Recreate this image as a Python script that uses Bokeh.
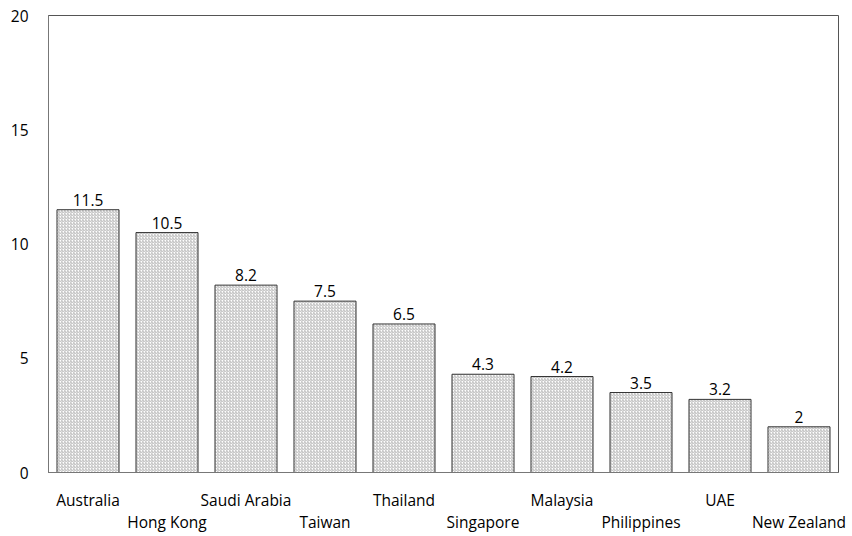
from bokeh.plotting import figure
from bokeh.models import ColumnDataSource, LinearAxis, FixedTicker, Range1d
from bokeh.core.properties import value
from bokeh.embed import file_html
from bokeh.resources import INLINE

countries = ["Australia", "Hong Kong", "Saudi Arabia", "Taiwan", "Thailand",
             "Singapore", "Malaysia", "Philippines", "UAE", "New Zealand"]
values = [11.5, 10.5, 8.2, 7.5, 6.5, 4.3, 4.2, 3.5, 3.2, 2]
labels = ["11.5", "10.5", "8.2", "7.5", "6.5", "4.3", "4.2", "3.5", "3.2", "2"]
y_ticks = [0, 5, 10, 15, 20]

FONT = "Open Sans"
FS = "15.5px"

pos = list(range(len(countries)))
src = ColumnDataSource(dict(x=pos, top=values, lab=labels))

p = figure(width=850, height=535, x_range=Range1d(-0.5, len(countries) - 0.5),
           y_range=Range1d(0, 20),
           output_backend="svg", toolbar_location=None,
           min_border_left=48, min_border_right=12, min_border_top=15, min_border_bottom=62)

p.vbar(x="x", top="top", width=0.785, source=src, fill_color="white",
       hatch_pattern="/", hatch_scale=3, hatch_weight=0.6, hatch_color="#888888",
       line_color="#333333", line_width=1)

p.text(x="x", y="top", text="lab", source=src, text_align="center",
       text_baseline="bottom", y_offset=-4, text_font=value(FONT),
       text_font_size=FS, text_color="#000000")

p.xgrid.visible = False
p.ygrid.visible = False
p.outline_line_color = "#555555"
p.outline_line_width = 1

p.yaxis.ticker = FixedTicker(ticks=y_ticks)
p.yaxis.major_tick_line_color = None
p.yaxis.minor_tick_line_color = None
p.yaxis.axis_line_color = "#777777"
p.yaxis.major_label_standoff = 14
p.yaxis.major_label_text_font = FONT
p.yaxis.major_label_text_font_size = FS
p.yaxis.major_label_text_color = "#000000"

def style_x(ax, parity, standoff):
    ax.ticker = FixedTicker(ticks=pos)
    ax.major_tick_line_color = None
    ax.minor_tick_line_color = None
    ax.major_label_standoff = standoff
    ax.major_label_text_font = FONT
    ax.major_label_text_font_size = FS
    ax.major_label_text_color = "#000000"
    ax.major_label_overrides = {i: (c if i % 2 == parity else "") for i, c in enumerate(countries)}

xa = p.xaxis[0]
style_x(xa, 0, 10)
xa.axis_line_color = "#777777"

xb = LinearAxis()
style_x(xb, 1, -9)
xb.axis_line_color = None
p.add_layout(xb, "below")

open("out.html", "w").write(file_html(p, INLINE))
